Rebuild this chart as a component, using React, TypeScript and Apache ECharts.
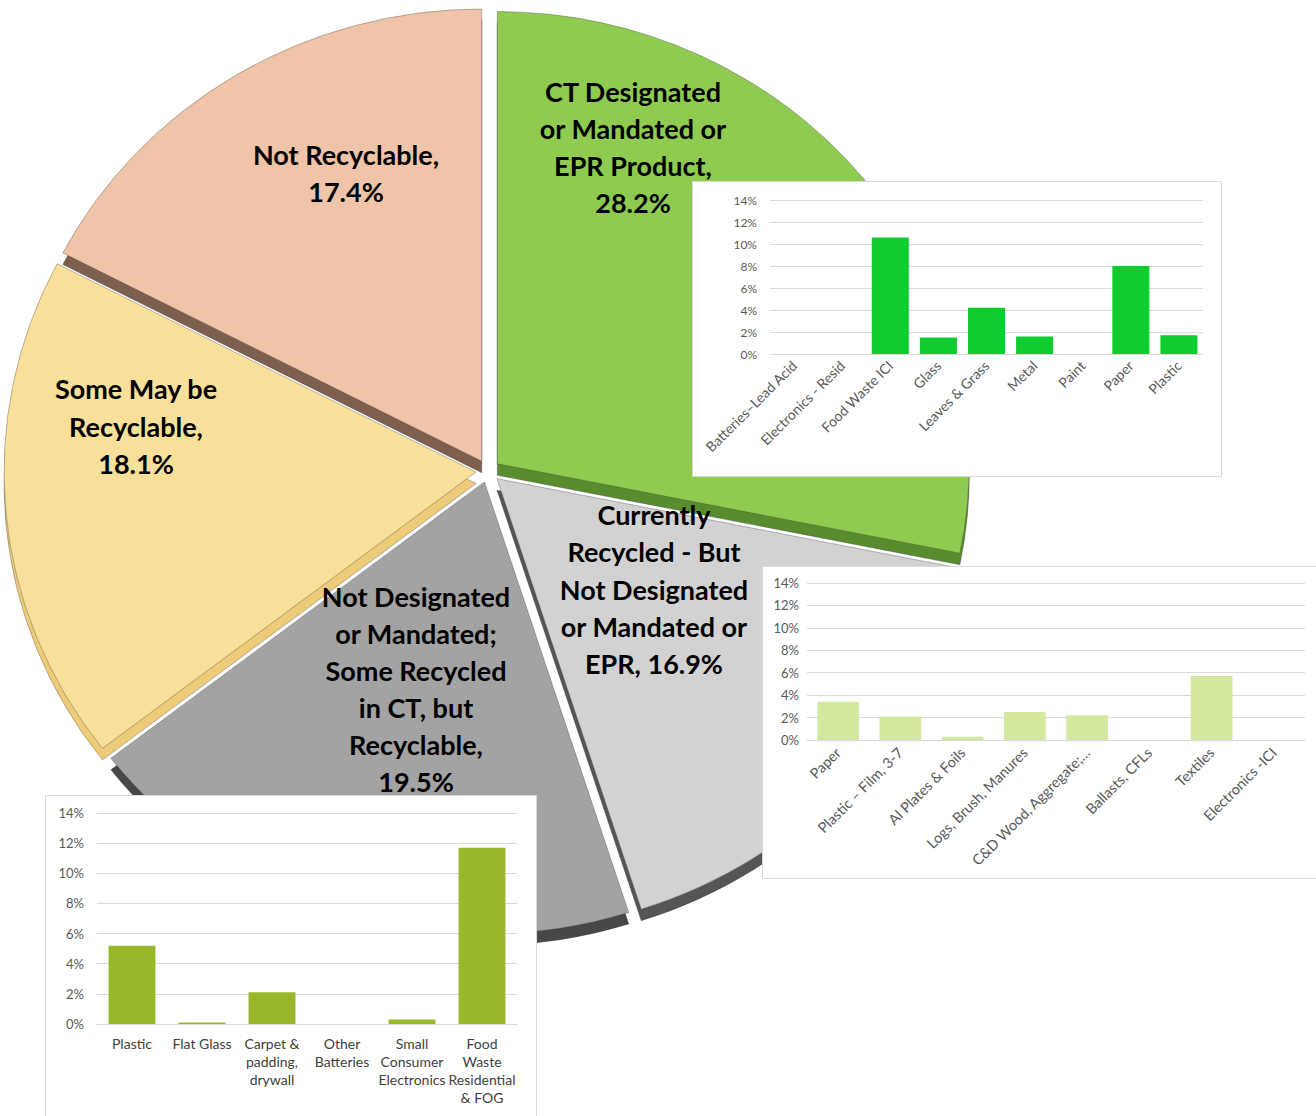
import React, { useEffect, useRef } from "react";
import * as echarts from "echarts";

// ---------- DATA ----------
const pieNames = [
  "CT Designated\nor Mandated or\nEPR Product",
  "Currently\nRecycled - But\nNot Designated\nor Mandated or\nEPR",
  "Not Designated\nor Mandated;\nSome Recycled\nin CT, but\nRecyclable",
  "Some May be\nRecyclable",
  "Not Recyclable",
];
const pieValues = [28.2, 16.9, 19.5, 18.1, 17.4];
const pieValueSeparators = ["\n", " ", "\n", "\n", "\n"];

const ctCategories = [
  "Batteries–Lead Acid",
  "Electronics - Resid",
  "Food Waste ICI",
  "Glass",
  "Leaves & Grass",
  "Metal",
  "Paint",
  "Paper",
  "Plastic",
];
const ctValues = [0, 0, 10.6, 1.5, 4.2, 1.6, 0, 8.0, 1.7];

const currentCategories = [
  "Paper",
  "Plastic – Film, 3-7",
  "Al Plates & Foils",
  "Logs, Brush, Manures",
  "C&D Wood, Aggregate;…",
  "Ballasts, CFLs",
  "Textiles",
  "Electronics -ICI",
];
const currentValues = [3.4, 2.1, 0.3, 2.5, 2.2, 0, 5.7, 0];

const notDesignatedCategories = [
  "Plastic",
  "Flat Glass",
  "Carpet &\npadding,\ndrywall",
  "Other\nBatteries",
  "Small\nConsumer\nElectronics",
  "Food\nWaste\nResidential\n& FOG",
];
const notDesignatedValues = [5.2, 0.1, 2.1, 0, 0.3, 11.7];

const yMin = 0;
const yMax = 14;
const yStep = 2;

// ---------- STYLE ----------
const FONT = "Lato, 'Open Sans', sans-serif";
const topColors = ["#8FCB50", "#D2D2D2", "#A3A3A3", "#F9E09A", "#F0C4A8"];
const sideColors = ["#598C2F", "#555555", "#474747", "#EDCB78", "#7D5F4E"];
const labelPos = [
  [633, 147],
  [654, 589],
  [416, 689],
  [136, 426],
  [346, 173],
];
// perspective tilt of the pie (vertical squash)
const TILT = 0.958;
const PIE_CX = 488;
const PIE_CY = 471; // on screen
const PAD = 60; // extra canvas above the page so the squashed pie is not clipped

function PieChart() {
  const ref = useRef<HTMLDivElement>(null);
  useEffect(() => {
    if (!ref.current) return;
    const chart = echarts.init(ref.current, undefined, { renderer: "svg" });
    const R = 472;
    const depth = 12;
    const cyLocal = PIE_CY + PAD;
    const makeData = (colors: string[]) =>
      pieValues.map((v, i) => ({
        value: v,
        name: pieNames[i],
        selected: true,
        itemStyle: {
          color: colors[i],
          borderColor: "rgba(60,60,60,0.45)",
          borderWidth: 0.8,
        },
        select: {
          itemStyle: {
            color: colors[i],
            borderColor: "rgba(60,60,60,0.45)",
            borderWidth: 0.8,
          },
        },
      }));
    const common = {
      type: "pie",
      radius: R,
      startAngle: 90,
      clockwise: true,
      selectedMode: "multiple",
      selectedOffset: 12,
      silent: true,
      label: { show: false },
      labelLine: { show: false },
      emphasis: { disabled: true, scale: false },
    };
    chart.setOption({
      animation: false,
      series: [
        { ...common, z: 1, center: [PIE_CX, cyLocal + depth], data: makeData(sideColors) },
        { ...common, z: 2, center: [PIE_CX, cyLocal], data: makeData(topColors) },
      ],
      graphic: pieValues.map((v, i) => ({
        type: "text",
        x: labelPos[i][0],
        y: cyLocal + (labelPos[i][1] - PIE_CY) / TILT,
        scaleY: 1 / TILT,
        z: 10,
        silent: true,
        style: {
          text: `${pieNames[i]},${pieValueSeparators[i]}${v.toFixed(1)}%`,
          fontFamily: FONT,
          fontWeight: "bold",
          fontSize: 27,
          lineHeight: 37,
          fill: "#000000",
          align: "center",
          verticalAlign: "middle",
        },
      })),
    });
    return () => chart.dispose();
  }, []);
  return (
    <div
      ref={ref}
      style={{
        position: "absolute",
        left: 0,
        top: -PAD,
        width: 1316,
        height: 1116 + 2 * PAD,
        transform: `scaleY(${TILT})`,
        transformOrigin: `${PIE_CX}px ${PIE_CY + PAD}px`,
      }}
    />
  );
}

type InsetProps = {
  left: number;
  top: number;
  width: number;
  height: number;
  categories: string[];
  values: number[];
  color: string;
  grid: { left: number; top: number; width: number; height: number };
  rotate: number;
  fontSize: number;
  xFontSize: number;
  gap: string;
  yMargin: number;
  xMargin: number;
  xColor: string;
};

function BarInset(p: InsetProps) {
  const ref = useRef<HTMLDivElement>(null);
  useEffect(() => {
    if (!ref.current) return;
    const chart = echarts.init(ref.current, undefined, { renderer: "svg" });
    chart.setOption({
      animation: false,
      grid: { ...p.grid, containLabel: false },
      xAxis: {
        type: "category",
        data: p.categories,
        axisLine: { show: true, lineStyle: { color: "#D9D9D9", width: 1 } },
        axisTick: { show: false },
        axisLabel: {
          interval: 0,
          rotate: p.rotate,
          color: p.xColor,
          fontFamily: FONT,
          fontSize: p.xFontSize,
          lineHeight: 18,
          margin: p.xMargin,
        },
      },
      yAxis: {
        type: "value",
        min: yMin,
        max: yMax,
        interval: yStep,
        axisLine: { show: false },
        axisTick: { show: false },
        splitLine: { lineStyle: { color: "#D9D9D9", width: 1 } },
        axisLabel: {
          formatter: "{value}%",
          color: "#595959",
          fontFamily: FONT,
          fontSize: p.fontSize,
          margin: p.yMargin,
        },
      },
      series: [
        {
          type: "bar",
          data: p.values,
          barCategoryGap: p.gap,
          silent: true,
          itemStyle: { color: p.color },
        },
      ],
    });
    return () => chart.dispose();
  }, []);
  return (
    <div
      style={{
        position: "absolute",
        left: p.left,
        top: p.top,
        width: p.width,
        height: p.height,
        background: "#ffffff",
        border: "1px solid #D9D9D9",
        boxSizing: "border-box",
      }}
    >
      <div ref={ref} style={{ width: p.width - 2, height: p.height - 2 }} />
    </div>
  );
}

export default function App() {
  return (
    <div
      style={{
        position: "absolute",
        left: 0,
        top: 0,
        width: 1316,
        height: 1116,
        overflow: "hidden",
        background: "#ffffff",
      }}
    >
      <PieChart />
      <BarInset
        left={692}
        top={181}
        width={530}
        height={296}
        categories={ctCategories}
        values={ctValues}
        color="#10CC2F"
        grid={{ left: 77, top: 18, width: 433, height: 154 }}
        rotate={45}
        fontSize={12}
        xFontSize={14}
        gap="23%"
        yMargin={13}
        xMargin={9}
        xColor="#595959"
      />
      <BarInset
        left={762}
        top={566}
        width={560}
        height={313}
        categories={currentCategories}
        values={currentValues}
        color="#D5E89F"
        grid={{ left: 44, top: 16, width: 498, height: 157 }}
        rotate={45}
        fontSize={13}
        xFontSize={14.5}
        gap="33%"
        yMargin={8}
        xMargin={10}
        xColor="#595959"
      />
      <BarInset
        left={45}
        top={795}
        width={492}
        height={330}
        categories={notDesignatedCategories}
        values={notDesignatedValues}
        color="#98B82A"
        grid={{ left: 51, top: 17, width: 420, height: 211 }}
        rotate={0}
        fontSize={13}
        xFontSize={14}
        gap="33%"
        yMargin={13}
        xMargin={10}
        xColor="#404040"
      />
    </div>
  );
}
